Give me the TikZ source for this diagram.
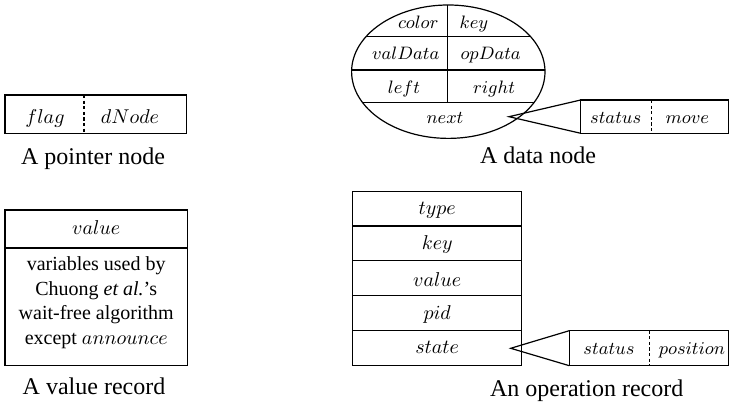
\documentclass[tikz,border=0pt]{standalone}
\usepackage{fontspec}
\setmainfont{Liberation Serif}
\begin{document}
\begin{tikzpicture}[x=0.5pt,y=-0.5pt,
  frame/.style={draw, line width=0.6pt},
  heavy/.style={draw, line width=1pt},
  divider/.style={draw, line width=0.6pt, dash pattern=on 1.6pt off 1.2pt},
  lbl/.style={anchor=base, inner sep=0pt, font=\fontsize{10}{12}\selectfont},
  sml/.style={anchor=base, inner sep=0pt, font=\fontsize{8.75}{10.5}\selectfont},
  captiontext/.style={anchor=base, inner sep=0pt, font=\fontsize{12}{14}\selectfont},
  body/.style={anchor=north, inner sep=0pt, align=center, font=\fontsize{10}{12.25}\selectfont},
  ]
\useasboundingbox (0,0) rectangle (730,405);

% ---------- pointer node ----------
\draw[frame] (5,95) rectangle (186.7,133.3);
\draw[divider] (84,95) -- (84,133.3);
\node[lbl] (flag)  at (45,123.3)  {$flag$};
\node[lbl] (dnode) at (130,123.3) {$dNode$};
\node[captiontext] (capptr) at (93,165) {A pointer node};

% ---------- value record ----------
\draw[frame] (5,210) rectangle (187.3,365.7);
\draw[heavy] (5,248.3) -- (187.3,248.3);
\node[lbl] (val) at (96.2,235) {$value$};
\node[body] (vars) at (96.2,256.5) {variables used by\\Chuong \textit{et al.}'s\\wait-free algorithm\\except $announce$};
\node[captiontext] (capval) at (94,395) {A value record};

% ---------- data node ----------
\coordinate (dc) at (448.3,71.7);
\begin{scope}
  \clip (dc) ellipse [x radius=96.7, y radius=66.7];
  \draw[frame] (340,36.7) -- (560,36.7);
  \draw[frame] (340,70) -- (560,70);
  \draw[frame] (340,102.7) -- (560,102.7);
  \draw[frame] (447.3,0) -- (447.3,102.7);
\end{scope}
\draw[frame] (dc) ellipse [x radius=96.7, y radius=66.7];
\node[sml] (color)   at (418.3,28.3) {$color$};
\node[sml] (dkey)    at (474,28.3)   {$key$};
\node[sml] (valdata) at (405.7,60)   {$valData$};
\node[sml] (opdata)  at (490.7,60)   {$opData$};
\node[sml] (left)    at (404,93.3)   {$left$};
\node[sml] (right)   at (494,93.3)   {$right$};
\node[sml] (next)    at (445,123.3)  {$next$};

% the next field expanded
\coordinate (napex) at (509,116.7);
\coordinate (ntop) at (580.7,100);
\coordinate (nbot) at (580.7,133.3);
\draw[frame] (ntop) rectangle (728.5,133.3);
\draw[divider] (651.7,100) -- (651.7,133.3);
\draw[frame] (ntop) -- (napex) -- (nbot);
\node[sml] (nstatus) at (615.7,123.3) {$status$};
\node[sml] (nmove)   at (687.3,123.3) {$move$};
\node[captiontext] (capdata) at (538,163.3) {A data node};

% ---------- operation record ----------
\draw[frame] (352.7,191.7) rectangle (521.7,365.7);
\foreach \yy in {226,260.7,295.7,330.7}
  \draw[frame] (352.7,\yy) -- (521.7,\yy);
\node[lbl] (otype)  at (437.2,215)   {$type$};
\node[lbl] (okey)   at (437.2,250)   {$key$};
\node[lbl] (ovalue) at (437.2,286.7) {$value$};
\node[lbl] (opid)   at (437.2,320)   {$pid$};
\node[lbl] (ostate) at (437.2,353.3) {$state$};

% the state field expanded
\coordinate (sapex) at (510.7,348.3);
\coordinate (stop) at (569.3,330.7);
\coordinate (sbot) at (569.3,365.7);
\draw[frame] (stop) rectangle (728.5,365.7);
\draw[divider] (649.3,330.7) -- (649.3,365.7);
\draw[frame] (stop) -- (sapex) -- (sbot);
\node[sml] (sstatus) at (609,355)  {$status$};
\node[sml] (spos)    at (692,355)  {$position$};
\node[captiontext] (capop) at (586.7,396.7) {An operation record};
\end{tikzpicture}
\end{document}
